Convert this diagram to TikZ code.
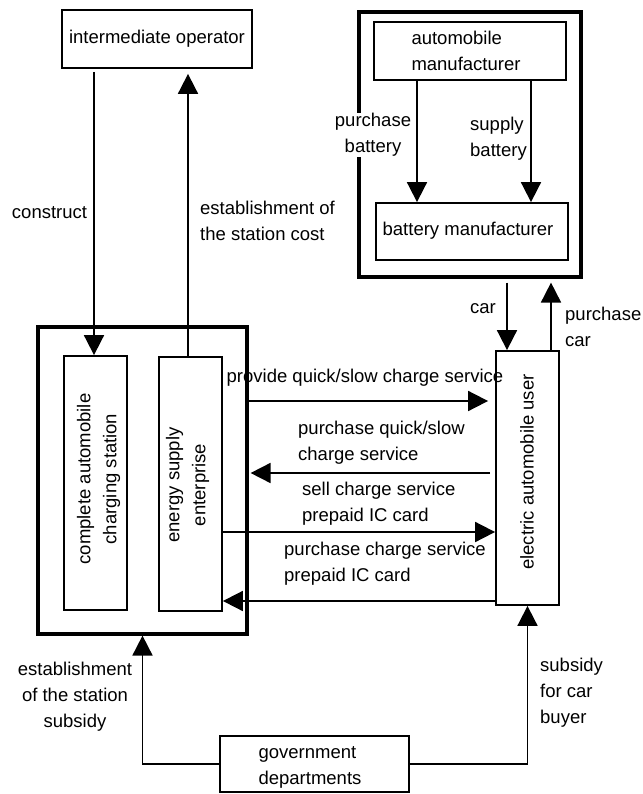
\documentclass[tikz,border=0pt]{standalone}
\usepackage{fontspec}
\setmainfont{Liberation Sans}
\usetikzlibrary{arrows.meta}
\begin{document}
\begin{tikzpicture}[x=1pt,y=-1pt,
  every node/.style={font=\fontsize{18.5}{26}\selectfont, inner sep=0pt},
  box/.style={draw, line width=1.8pt, rectangle},
  bigbox/.style={draw, line width=3.2pt, rectangle},
  arr/.style={line width=1.8pt, -{Triangle[length=20pt,width=20pt]}},
  lbl/.style={align=left, anchor=west},
  lblc/.style={align=center}]
\useasboundingbox (0,0) rectangle (642,794);
% boxes
\node[box, minimum width=190pt, minimum height=58pt] (io) at (157,39) {intermediate operator};
\node[bigbox, minimum width=222pt, minimum height=265pt] (outR) at (470,144.5) {};
\node[box, minimum width=192pt, minimum height=58pt] (am) at (470,51) {};
\node[align=left] (amt) at (466,51) {automobile\\manufacturer};
\node[box, minimum width=192pt, minimum height=57pt] (bm) at (472,231.5) {};
\node (bmt) at (468,231) {battery manufacturer};
\node[bigbox, minimum width=209pt, minimum height=307pt] (outL) at (142.5,480.5) {};
\node[box, minimum width=63pt, minimum height=254pt] (cs) at (95.5,483) {};
\node[rotate=90, align=center] (cst) at (98.5,479) {complete automobile\\charging station};
\node[box, minimum width=63pt, minimum height=254pt] (es) at (190.5,484) {};
\node[rotate=90, align=center] (est) at (187.5,485) {energy supply\\enterprise};
\node[box, minimum width=63pt, minimum height=254pt] (eu) at (527.5,478) {};
\node[rotate=90] (eut) at (527,472) {electric automobile user};
\node[box, minimum width=189pt, minimum height=56pt] (gov) at (314.5,764) {};
\node[align=left] (govt) at (310,767) {government\\departments};
% helper coordinates
\coordinate (x94) at (94,0);
\coordinate (x188) at (188,0);
\coordinate (x417) at (417,0);
\coordinate (x531) at (531,0);
\coordinate (x507) at (507,0);
\coordinate (x551) at (551,0);
\coordinate (y401) at (0,401);
\coordinate (y473) at (0,473);
\coordinate (y532) at (0,532);
\coordinate (y601) at (0,601);
% vertical arrows
\draw[arr, shorten <=3pt] (io.south -| x94) -- (cs.north -| x94);
\draw[arr, shorten >=5pt] (es.north -| x188) -- (io.south -| x188);
\draw[arr] (am.south -| x417) -- (bm.north -| x417);
\draw[arr] (am.south -| x531) -- (bm.north -| x531);
\draw[arr, shorten <=4pt] (outR.south -| x507) -- (eu.north -| x507);
\draw[arr, shorten >=4pt] (eu.north -| x551) -- (outR.south -| x551);
% horizontal arrows
\draw[arr, shorten >=7pt] (outL.east |- y401) -- (eu.west |- y401);
\draw[arr, shorten <=5pt, shorten >=2pt] (eu.west |- y473) -- (outL.east |- y473);
\draw[arr] (es.east |- y532) -- (eu.west |- y532);
\draw[arr] (eu.west |- y601) -- (es.east |- y601);
% government arrows
\draw[arr] (gov.west) -| (outL.south);
\draw[arr] (gov.east) -| (eu.south);
% labels
\node (l1) at (49.5,213) {construct};
\node[lbl] (l2) at (200,221) {establishment of\\the station cost};
\node[lblc, fill=white] (l3) at (373,135) {purchase\\battery};
\node[lbl] (l4) at (470,139) {supply\\battery};
\node (l5) at (483,309) {car};
\node[lbl] (l6) at (565,326.5) {purchase\\car};
\node (l7) at (365,378) {provide quick/slow charge service};
\node[lbl] (l8) at (298,442.5) {purchase quick/slow\\charge service};
\node[lbl] (l9) at (302,504) {sell charge service\\prepaid IC card};
\node[lbl] (l10) at (284,564) {purchase charge service\\prepaid IC card};
\node[lblc] (l11) at (75,697) {establishment\\of the station\\subsidy};
\node[lbl] (l12) at (540,693) {subsidy\\for car\\buyer};
\end{tikzpicture}
\end{document}
